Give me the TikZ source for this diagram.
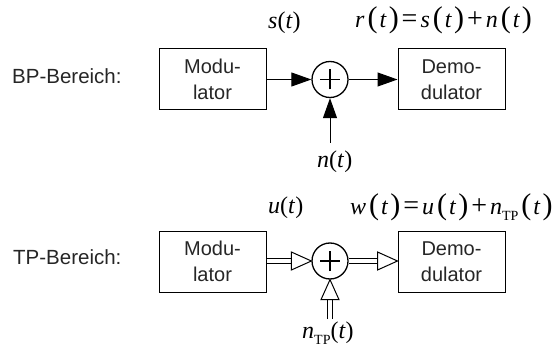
\documentclass[tikz,border=0pt]{standalone}
\usepackage{fontspec}
\setmainfont{Liberation Sans}
\newfontfamily\mserif{Liberation Serif}
\usetikzlibrary{arrows.meta,calc}
\newcommand\vi[1]{\textit{#1}}
\newcommand\bigparen[1]{\kern3pt{\fontsize{30}{30}\selectfont(}\kern2pt\textit{#1}\kern2pt{\fontsize{30}{30}\selectfont)}}
\newcommand\op[1]{\kern3pt{\fontsize{28}{28}\selectfont #1}\kern3pt}
\newcommand\TPsub{\raisebox{-6pt}{\fontsize{14}{14}\selectfont TP}}
\newcommand\hollowarr[2]{%
  \coordinate (hA) at #1;
  \coordinate (hB) at #2;
  \coordinate (hH) at ($(hB)!20pt!(hA)$);
  \draw[line width=1pt, double, double distance=4.5pt] (hA) -- (hH);
  \draw[line width=1pt, fill=white, line join=miter] ($(hH)!9pt!90:(hB)$) -- (hB) -- ($(hH)!9pt!-90:(hB)$) -- cycle;
}
\tikzset{
  blk/.style={draw, line width=1pt, minimum width=107pt, minimum height=61pt, inner sep=0pt, align=center, font=\fontsize{20}{26}\selectfont, text=black!85},
  sumc/.style={draw, circle, line width=1.3pt, minimum size=36pt, inner sep=0pt,
    path picture={\draw[line width=1.2pt]
      ([xshift=-10pt]path picture bounding box.center) -- ([xshift=10pt]path picture bounding box.center)
      ([yshift=-10pt]path picture bounding box.center) -- ([yshift=10pt]path picture bounding box.center);}},
  sig/.style={line width=1pt, -{Triangle[length=20pt,width=14pt]}},
  lbl/.style={font=\fontsize{20.5}{24}\selectfont, inner sep=0pt, anchor=base west, text=black!85},
  mlbl/.style={font=\mserif\fontsize{24}{28}\selectfont, inner sep=0pt, anchor=base west},
}
\begin{document}
\begin{tikzpicture}[x=1pt, y=-1pt]
\useasboundingbox (0,0) rectangle (553,355);
% ---- BP ----
\node[lbl] (bp) at (12,84) {BP-Bereich:};
\node[blk] (m1) at (212.5,79.5) {Modu-\\lator};
\node[sumc] (c1) at (330,79.5) {};
\node[blk] (d1) at (451.5,79.5) {Demo-\\dulator};
\coordinate (n1s) at (330,143);
\draw[sig] (m1.east) -- (c1.west);
\draw[sig] (c1.east) -- (d1.west);
\draw[sig] (n1s) -- (c1.south);
\node[mlbl] (s) at (268,29) {\vi{s}(\vi{t})};
\node[mlbl] (r) at (355,28) {\vi{r}\bigparen{t}\op{=}\vi{s}\bigparen{t}\op{+}\vi{n}\bigparen{t}};
\node[mlbl] (n) at (317,168) {\vi{n}(\vi{t})};
% ---- TP ----
\node[lbl] (tp) at (13,264) {TP-Bereich:};
\node[blk] (m2) at (212.5,261.5) {Modu-\\lator};
\node[sumc] (c2) at (330,261) {};
\node[blk] (d2) at (451.5,261.5) {Demo-\\dulator};
\coordinate (n2s) at (330,319);
\hollowarr{(m2.east |- c2.west)}{(c2.west)}
\hollowarr{(c2.east)}{(d2.west |- c2.east)}
\hollowarr{(n2s)}{(c2.south)}
\node[mlbl] (u) at (268,213) {\vi{u}(\vi{t})};
\node[mlbl] (w) at (350,214) {\vi{w}\bigparen{t}\op{=}\vi{u}\bigparen{t}\op{+}\vi{n}\TPsub\bigparen{t}};
\node[mlbl] (ntp) at (302,338) {\vi{n}\TPsub(\vi{t})};
\end{tikzpicture}
\end{document}
